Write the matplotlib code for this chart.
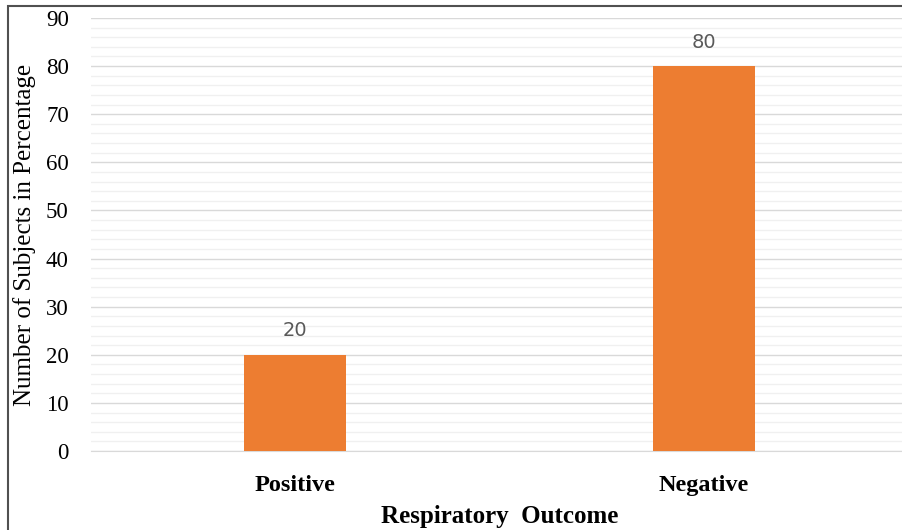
import numpy as np
import matplotlib.pyplot as plt
from matplotlib.patches import Rectangle
from matplotlib.ticker import MultipleLocator

categories = ['Positive', 'Negative']
percentages = [20, 80]

fig = plt.figure(figsize=(9.02, 5.30), dpi=100)
ax = fig.add_axes([91 / 902, 1 - 451 / 530, 817 / 902, 433 / 530])

# outer frame of the original figure
fig.patches.append(Rectangle((8 / 902, -0.1), 1.2, 1 - 6 / 530 + 0.1,
                             transform=fig.transFigure, fill=False,
                             edgecolor='#505050', linewidth=1.5))

x = np.arange(len(categories))
ax.bar(x, percentages, width=0.25, color='#ed7d31', zorder=3)
for xi, v in zip(x, percentages):
    ax.text(xi, v + 3.0, str(v), ha='center', va='bottom', fontsize=14,
            color='#595959', family='DejaVu Sans')

ax.set_xlim(-0.5, 1.5)
ax.set_ylim(0, 90)
ax.yaxis.set_major_locator(MultipleLocator(10))
ax.yaxis.set_minor_locator(MultipleLocator(2))
ax.grid(which='major', axis='y', color='#d9d9d9', linewidth=1.0, zorder=0)
ax.grid(which='minor', axis='y', color='#f0f0f0', linewidth=1.0, zorder=0)

ax.set_xticks(x)
ax.set_xticklabels(categories, family='Liberation Serif', fontsize=17.5,
                   fontweight='bold')
for lab in ax.get_yticklabels():
    lab.set_family('Liberation Serif')
ax.tick_params(axis='y', which='both', length=0, labelsize=16.5, pad=16)
ax.tick_params(axis='x', length=0, pad=17)

for s in ['top', 'right', 'left']:
    ax.spines[s].set_visible(False)
ax.spines['bottom'].set_color('#d9d9d9')

ax.set_xlabel('Respiratory  Outcome', family='Liberation Serif', fontsize=18,
              fontweight='bold')
ax.xaxis.set_label_coords(0.5, -54 / 433)
ax.set_ylabel('Number of Subjects in Percentage', family='Liberation Serif',
              fontsize=18)
ax.yaxis.set_label_coords(-55 / 817, 0.5)

fig.savefig('out.png', dpi=100)
